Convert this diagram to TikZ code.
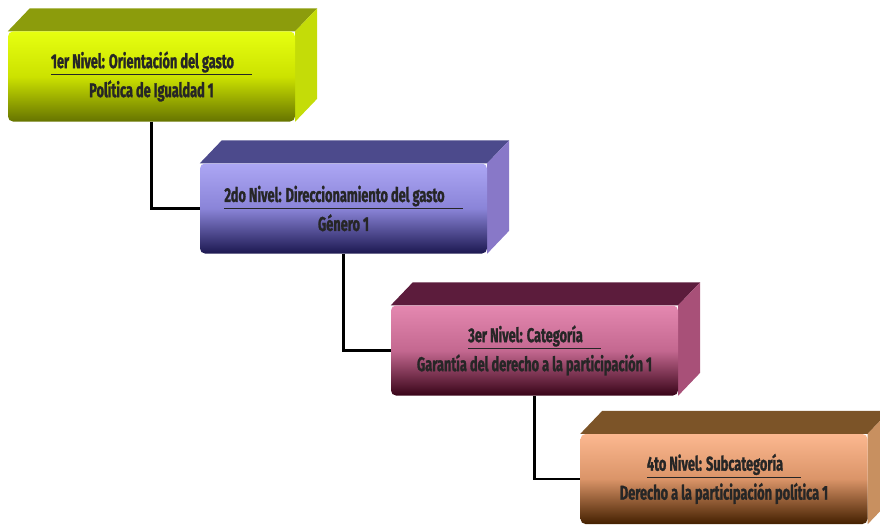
\documentclass[tikz,border=0pt]{standalone}
\usepackage{fontspec}
\usetikzlibrary{backgrounds}

\newfontfamily\lvlfont{Fira Sans}[FakeStretch=0.64, FakeBold=1.2]
\newcommand{\lvlhead}[1]{\leavevmode\vtop{\hbox{#1\hspace{18pt}}\kern1.5pt\hrule height 1.4pt}}

\definecolor{fr1top}{HTML}{E6FF10}
\definecolor{fr1mid}{HTML}{CCE200}
\definecolor{fr1bot}{HTML}{667400}
\definecolor{tp1}{HTML}{8C9C0C}
\definecolor{sd1}{HTML}{C4DC08}
\definecolor{fr2top}{HTML}{ACA6F4}
\definecolor{fr2mid}{HTML}{8A84D8}
\definecolor{fr2bot}{HTML}{1C1850}
\definecolor{tp2}{HTML}{4C4A8C}
\definecolor{sd2}{HTML}{8878C8}
\definecolor{fr3top}{HTML}{E488B0}
\definecolor{fr3mid}{HTML}{C46890}
\definecolor{fr3bot}{HTML}{380418}
\definecolor{tp3}{HTML}{5C1C3C}
\definecolor{sd3}{HTML}{A85078}
\definecolor{fr4top}{HTML}{FCB890}
\definecolor{fr4mid}{HTML}{DA9468}
\definecolor{fr4bot}{HTML}{442000}
\definecolor{tp4}{HTML}{7C5428}
\definecolor{sd4}{HTML}{C89060}

\tikzset{
  lvl/.style={rectangle, rounded corners=5pt, minimum width=287pt, minimum height=90pt,
    align=center, inner sep=0pt, text=black!85,
    font=\lvlfont\bfseries\fontsize{20}{29}\selectfont},
  lvl1/.style={lvl, top color=fr1top, bottom color=fr1bot, middle color=fr1mid},
  lvl2/.style={lvl, top color=fr2top, bottom color=fr2bot, middle color=fr2mid},
  lvl3/.style={lvl, top color=fr3top, bottom color=fr3bot, middle color=fr3mid},
  lvl4/.style={lvl, top color=fr4top, bottom color=fr4bot, middle color=fr4mid},
  link/.style={draw=black, line width=2.4pt},
}

\begin{document}
\begin{tikzpicture}[x=1pt, y=-1pt]
  \useasboundingbox (0,0) rectangle (880,527);
  \node[lvl1] (n1) at (151.5,76.5) {\lvlhead{1er Nivel: Orientación del gasto}\\Política de Igualdad 1};
  \node[lvl2] (n2) at (343.5,208.5) {\lvlhead{2do Nivel: Direccionamiento del gasto}\\Género 1};
  \node[lvl3] (n3) at (534.5,350.5) {\lvlhead{3er Nivel: Categoría}\\Garantía del derecho a la participación 1};
  \node[lvl4] (n4) at (724,479) {\lvlhead{4to Nivel: Subcategoría}\\Derecho a la participación política 1};
  \begin{scope}[on background layer]
    \foreach \nd/\tc/\sc in {n1/tp1/sd1, n2/tp2/sd2, n3/tp3/sd3, n4/tp4/sd4} {
      \fill[\tc] (\nd.north west) -- ++(22,-23) -- ([shift={(22,-23)}]\nd.north east) -- (\nd.north east) -- cycle;
      \fill[\sc] (\nd.north east) -- ++(22,-23) -- ([shift={(22,-23)}]\nd.south east) -- (\nd.south east) -- cycle;
    }
    \draw[link] (n1.south) |- (n2.west);
    \draw[link] (n2.south) |- (n3.west);
    \draw[link] (n3.south) |- (n4.west);
  \end{scope}
\end{tikzpicture}
\end{document}
